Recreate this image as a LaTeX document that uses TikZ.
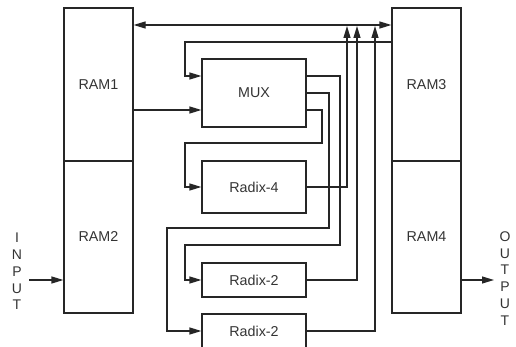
\documentclass[tikz,border=0pt]{standalone}
\usepackage{fontspec}
\setmainfont{Liberation Sans}
\usetikzlibrary{arrows.meta,positioning,calc}

\begin{document}
\begin{tikzpicture}[x=1pt,y=-1pt,
    line width=1.2pt, draw=black!85,
    >={Triangle[length=12pt,width=7pt]},
    font=\fontsize{14.3}{16}\selectfont, text=black!80,
    ram/.style={draw, rectangle, minimum width=69pt, inner sep=0pt},
    unit/.style={draw, rectangle, minimum width=104pt, inner sep=0pt},
    letters/.style={align=center, inner sep=0pt, font=\fontsize{14}{16.8}\selectfont}]
            \useasboundingbox (0,0) rectangle (516,347);
            \clip (0,0) rectangle (516,347);
            \node[ram, minimum height=153pt] (ram1) at (98.5,84.5) {RAM1};
            \node[ram, minimum height=152pt] (ram2) at (98.5,237) {RAM2};
            \node[ram, minimum height=153pt] (ram3) at (426.5,84.5) {RAM3};
            \node[ram, minimum height=152pt] (ram4) at (426.5,237) {RAM4};

            \node[unit, minimum height=68pt] (mux) at (254,93) {MUX};
            \node[unit, minimum height=52pt] (radix4) at (254,187) {Radix-4};
            \node[unit, minimum height=34pt] (radix2a) at (254,280) {Radix-2};
            \node[unit, minimum height=34pt] (radix2b) at (254,331) {Radix-2};

            \node[letters] (input) at (17,271.5) {I\\N\\P\\U\\T};
            \node[letters] (output) at (505,278.5) {O\\U\\T\\P\\U\\T};

            \coordinate (bus) at (0,25);
            \coordinate (fbk) at (185,42);
            \coordinate (inend) at (29,280);
            \coordinate (outend) at (494,280);
            \coordinate (tap4) at (347,26);
            \coordinate (tap2a) at (357,26);
            \coordinate (tap2b) at (375,26);
            \coordinate (muxin) at ([yshift=-17pt]mux.west);

            % RAM traffic
            \draw[<->] (ram1.east |- bus) -- (ram3.west |- bus);
            \draw[->] (ram1.east |- muxin) -- (muxin);
            \draw[->] (ram3.west |- fbk) -- (fbk) |- ([yshift=17pt]mux.west);
            \draw[->] (inend) -- (inend -| ram2.west);
            \draw[->] (outend -| ram4.east) -- (outend);

            % MUX to the butterflies
            \draw[->] ([yshift=17pt]mux.east) -- (340,76) |- (185,245) |- (radix2a.west);
            \draw[->] (mux.east) -- (329,93) |- (167,228) |- (radix2b.west);
            \draw[->] ([yshift=-17pt]mux.east) -- (322,110) |- (185,143) |- (radix4.west);

            % results back to the bus
            \draw[->] (radix4.east) -| (tap4);
            \draw[->] (radix2a.east) -| (tap2a);
            \draw[->] (radix2b.east) -| (tap2b);
        \end{tikzpicture}
\end{document}
